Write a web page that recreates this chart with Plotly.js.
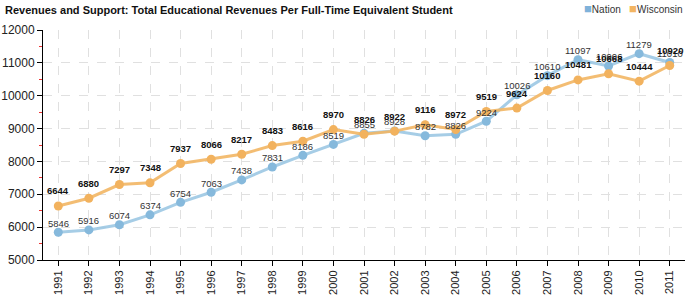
<!DOCTYPE html>
<html>
<head>
<meta charset="utf-8">
<script src="https://cdn.plot.ly/plotly-3.0.1.min.js"></script>
<style>html,body{margin:0;padding:0;background:#fff;}#chart{width:700px;height:300px;}</style>
</head>
<body>
<div id="chart"></div>
<script>
const years = [1991,1992,1993,1994,1995,1996,1997,1998,1999,2000,2001,2002,2003,2004,2005,2006,2007,2008,2009,2010,2011];
const nation = [5846,5916,6074,6374,6754,7063,7438,7831,8186,8519,8855,8928,8782,8826,9224,10026,10610,11097,10906,11279,11010];
const wisconsin = [6644,6880,7297,7348,7937,8066,8217,8483,8616,8970,8826,8922,9116,8972,9519,9624,10160,10481,10668,10444,10920];
const seriesNames = ['Nation','Wisconsin'];
const titleText = 'Revenues and Support: Total Educational Revenues Per Full-Time Equivalent Student';

const blueLine = 'rgba(150,196,226,0.85)', blueMarker = '#86b9dc', blueKey = '#7fb2da';
const orangeLine = 'rgba(242,182,100,0.9)', orangeMarker = '#f2b25e', orangeKey = '#f3b562';
const F = 'Liberation Sans, Arial, sans-serif';

const traces = [
  {x: years, y: nation, type:'scatter', mode:'lines+markers', name: seriesNames[0],
   line:{color: blueLine, width:3}, marker:{color: blueMarker, size:9}},
  {x: years, y: wisconsin, type:'scatter', mode:'lines+markers', name: seriesNames[1],
   line:{color: orangeLine, width:3}, marker:{color: orangeMarker, size:9}}
];

const annotations = [];
years.forEach((yr, i) => {
  annotations.push({x: yr, y: nation[i], xref:'x', yref:'y', text: String(nation[i]), showarrow:false,
    yshift: 9, font:{family:F, size:9.5, color:'#333'}});
  annotations.push({x: yr, y: wisconsin[i], xref:'x', yref:'y', text: '<b>' + wisconsin[i] + '</b>', showarrow:false,
    yshift: 15, font:{family:F, size:9.5, color:'#111'}});
});
// legend
annotations.push({xref:'paper', yref:'paper', x:1, xanchor:'right', y:(260-8)/230, yanchor:'middle', showarrow:false,
  text: '<span style="color:' + blueKey + ';font-size:13px">■</span>' + seriesNames[0] +
        '   <span style="color:' + orangeKey + ';font-size:13px">■</span>' + seriesNames[1],
  font:{family:F, size:10, color:'#333'}});

const layout = {
  width:700, height:300,
  margin:{l:43, r:15, t:30, b:40, pad:0},
  paper_bgcolor:'#fff', plot_bgcolor:'#fff',
  font:{family:F, color:'#222'},
  title:{text:'<b>' + titleText + '</b>', font:{family:F, size:11, color:'#111'},
    xref:'container', yref:'container', x:5/700, xanchor:'left', y:1-10/300, yanchor:'middle'},
  showlegend:false,
  xaxis:{range:[1990.5, 2011.5], tickmode:'array', tickvals: years, ticktext: years.map(String),
    tickangle:-90, ticks:'outside', ticklen:5, tickcolor:'#000', tickfont:{family:F, size:11, color:'#222'},
    showline:true, linecolor:'#000', linewidth:1, showgrid:true, gridcolor:'#e0e0e0', griddash:'dash', gridwidth:1,
    zeroline:false, fixedrange:true},
  yaxis:{range:[5000, 12000], dtick:1000, tick0:5000, tickformat:'d', ticks:'outside', ticklen:5, tickcolor:'#000',
    tickfont:{family:F, size:12, color:'#222'},
    showline:true, linecolor:'#000', linewidth:1, showgrid:true, gridcolor:'#e0e0e0', griddash:'dash', gridwidth:1,
    zeroline:false, fixedrange:true,
    minor:{dtick:500, tick0:5000, ticks:'outside', ticklen:3, tickcolor:'#e33', showgrid:false}},
  annotations: annotations
};

Plotly.newPlot('chart', traces, layout, {displayModeBar:false, staticPlot:true});
</script>
</body>
</html>
